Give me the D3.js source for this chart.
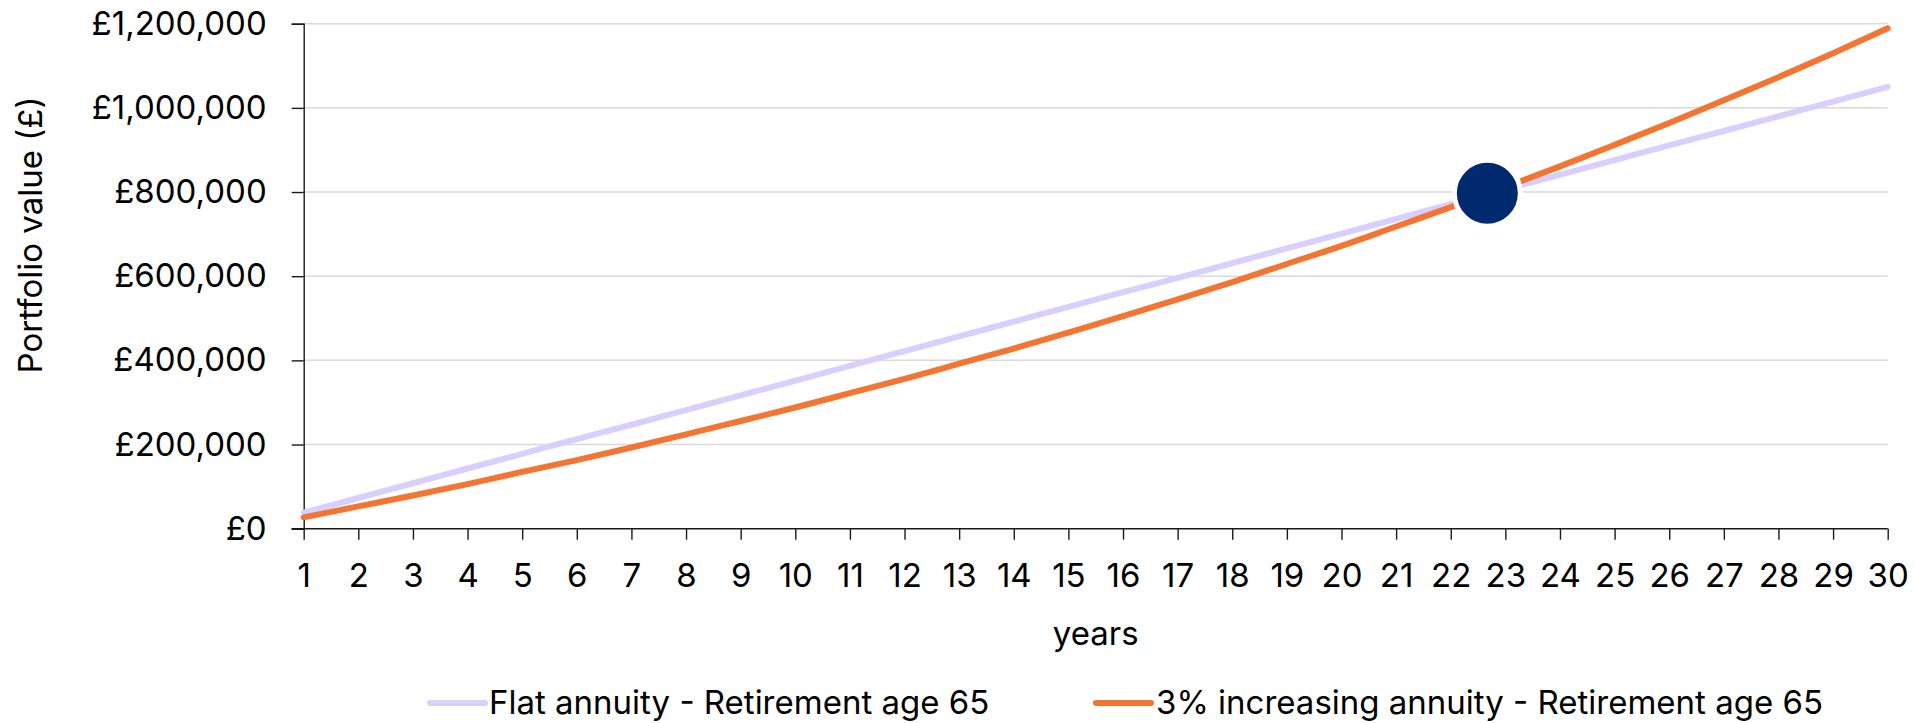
<!DOCTYPE html>
<html>
<head>
<meta charset="utf-8">
<script src="https://cdn.jsdelivr.net/npm/d3@7"></script>
<style>
  html, body { margin: 0; padding: 0; background: #ffffff; }
  svg { display: block; }
  text { font-family: Inter, "Open Sans", sans-serif; fill: #000; }
</style>
</head>
<body>
<svg id="chart" width="1916" height="723"></svg>
<script>
// Years after retirement
const years = d3.range(1, 31);

// Portfolio value (£) for a flat annuity, retirement age 65
const flatAnnuity = [
  38000, 73000, 108000, 143000, 178000, 213000, 247000, 282000, 317000, 352000,
  387000, 422000, 457000, 492000, 527000, 562000, 596000, 631000, 666000, 701000,
  736000, 771000, 806000, 841000, 876000, 911000, 945000, 980000, 1015000, 1050000
];

// Portfolio value (£) for a 3% increasing annuity, retirement age 65
const increasingAnnuity = [
  27000, 53000, 79000, 106000, 135000, 163000, 193000, 224000, 256000, 288000,
  322000, 356000, 392000, 428000, 466000, 505000, 545000, 586000, 629000, 672000,
  718000, 764000, 812000, 861000, 912000, 964000, 1018000, 1073000, 1130000, 1189000
];

// Where the two paths cross
const crossover = [{ year: 22.67, value: 797000 }];

const seriesNames = [
  "Flat annuity - Retirement age 65",
  "3% increasing annuity - Retirement age 65"
];
const seriesColors = ["#d9cffe", "#f47532"];

const yTicks = [0, 200000, 400000, 600000, 800000, 1000000, 1200000];

const svg = d3.select("#chart");
const margin = { top: 23.7, right: 28.3, bottom: 194.3, left: 303.7 };
const W = 1916, H = 723;
const innerW = W - margin.left - margin.right;
const innerH = H - margin.top - margin.bottom;
const fontSize = 33;

const x = d3.scaleLinear().domain([1, 30]).range([margin.left, margin.left + innerW]);
const y = d3.scaleLinear().domain([0, 1200000]).range([margin.top + innerH, margin.top]);

// Horizontal gridlines
svg.append("g")
  .selectAll("line")
  .data(yTicks.filter(d => d > 0))
  .join("line")
  .attr("x1", x(1)).attr("x2", x(30))
  .attr("y1", d => y(d)).attr("y2", d => y(d))
  .attr("stroke", "#d9d9d9")
  .attr("stroke-width", 1.5);

// Y axis
const yAxis = svg.append("g")
  .attr("transform", `translate(${margin.left},0)`)
  .call(d3.axisLeft(y)
    .tickValues(yTicks)
    .tickSize(12)
    .tickPadding(25)
    .tickFormat(d => "£" + d3.format(",")(d)));

// X axis
const xAxis = svg.append("g")
  .attr("transform", `translate(0,${y(0)})`)
  .call(d3.axisBottom(x)
    .tickValues(years)
    .tickSize(11)
    .tickPadding(24)
    .tickFormat(d3.format("d")));

[yAxis, xAxis].forEach(g => {
  g.select(".domain").attr("stroke", "#1a1a1a").attr("stroke-width", 1.4);
  g.selectAll(".tick line").attr("stroke", "#1a1a1a").attr("stroke-width", 1.4);
  g.selectAll(".tick text")
    .attr("font-family", "Inter, 'Open Sans', sans-serif")
    .attr("font-size", fontSize)
    .attr("fill", "#000");
});
// extend the x axis line under the left tick
xAxis.select(".domain").attr("d", `M${margin.left - 12},0H${x(30)}`);
xAxis.selectAll(".tick line").attr("y1", 0);

// Series lines
const line = d3.line()
  .x((d, i) => x(years[i]))
  .y(d => y(d))
  .curve(d3.curveMonotoneX);

[flatAnnuity, increasingAnnuity].forEach((vals, k) => {
  svg.append("path")
    .datum(vals)
    .attr("d", line)
    .attr("fill", "none")
    .attr("stroke", seriesColors[k])
    .attr("stroke-width", 6)
    .attr("stroke-linecap", "round")
    .attr("stroke-linejoin", "round");
});

// Crossover marker
svg.append("g")
  .selectAll("circle")
  .data(crossover)
  .join("circle")
  .attr("cx", d => x(d.year))
  .attr("cy", d => y(d.value))
  .attr("r", 33)
  .attr("fill", "#002a70")
  .attr("stroke", "#ffffff")
  .attr("stroke-width", 5);

// Axis titles
svg.append("text")
  .attr("transform", "translate(30,235) rotate(-90)")
  .attr("text-anchor", "middle")
  .attr("dy", "0.35em")
  .attr("font-size", fontSize)
  .text("Portfolio value (£)");

svg.append("text")
  .attr("x", margin.left + innerW / 2)
  .attr("y", 645)
  .attr("text-anchor", "middle")
  .attr("font-size", fontSize)
  .text("years");

// Legend
const legendItems = [
  { x0: 430, tx: 489 },
  { x0: 1096, tx: 1156 }
];
const legend = svg.append("g");
legendItems.forEach((it, k) => {
  legend.append("line")
    .attr("x1", it.x0).attr("x2", it.x0 + 55)
    .attr("y1", 703).attr("y2", 703)
    .attr("stroke", seriesColors[k])
    .attr("stroke-width", 6)
    .attr("stroke-linecap", "round");
  legend.append("text")
    .attr("x", it.tx)
    .attr("y", 714)
    .attr("font-size", fontSize)
    .text(seriesNames[k]);
});
</script>
</body>
</html>
